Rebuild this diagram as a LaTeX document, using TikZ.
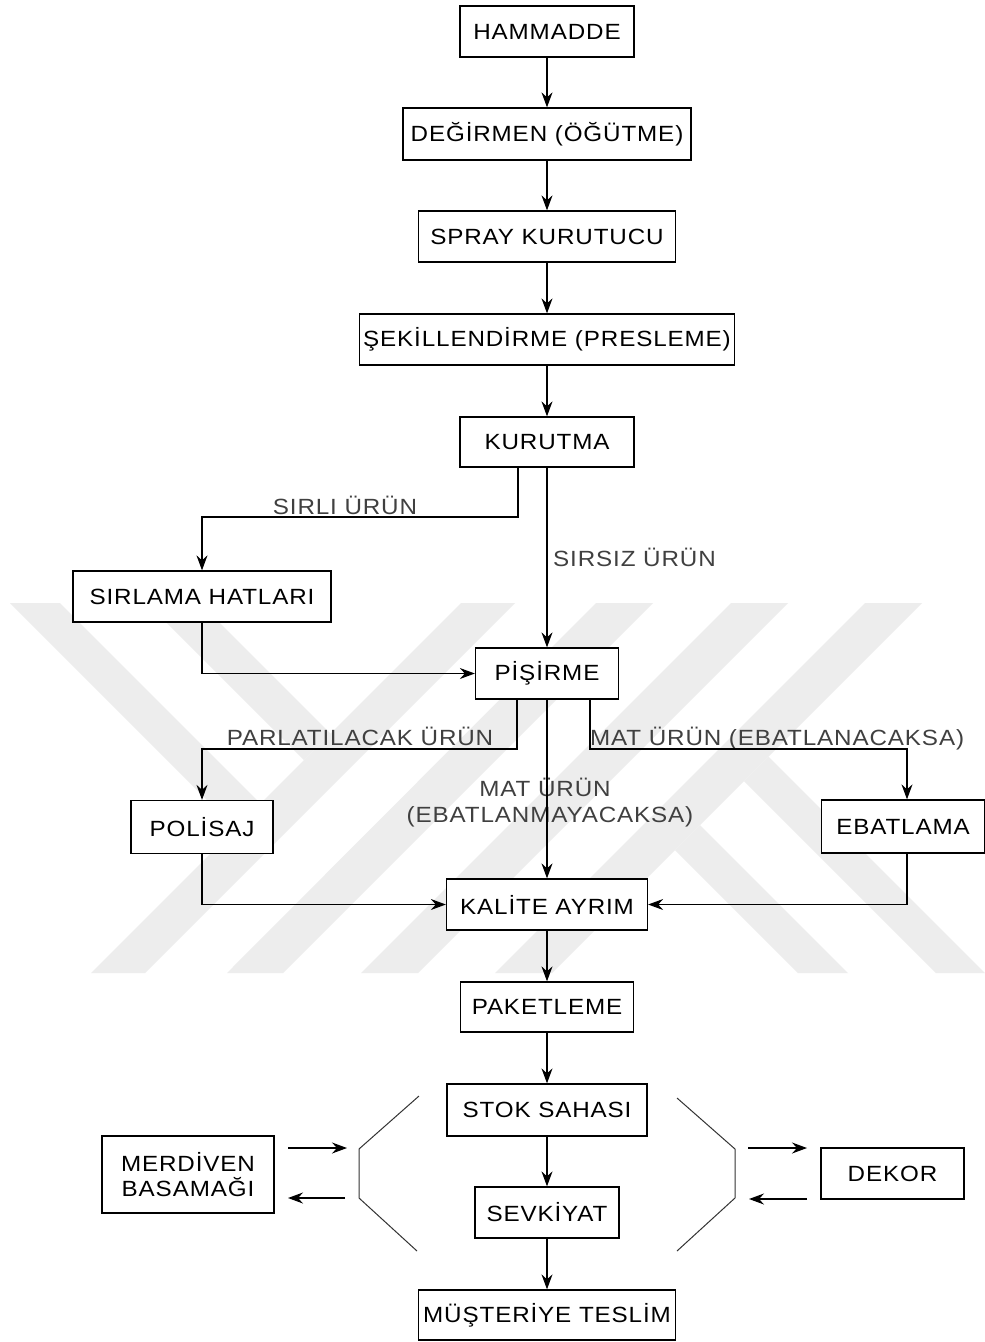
\documentclass[tikz,border=0pt]{standalone}
\usepackage{fontspec}
\setmainfont{Liberation Sans}[LetterSpace=4,FakeStretch=1.1]
\usetikzlibrary{arrows.meta}
\newcommand\dfont{\fontsize{22}{25}\selectfont}
\begin{document}
\begin{tikzpicture}[x=1pt,y=-1pt,
  box/.style={draw=black, line width=1.3pt, fill=white, inner sep=0pt, font=\dfont, text=black},
  lbl/.style={font=\dfont, text=black!75, inner sep=0pt, anchor=base},
  arr/.style={line width=1.2pt, black, -{Stealth[length=15pt,width=11pt,inset=5pt]}},
  ln/.style={line width=1pt, black!80},
  wm/.style={fill=gray!14, draw=none}]
\useasboundingbox (0,0) rectangle (985,1342);
\fill[white] (0,0) rectangle (985,1342);
% watermark
\fill[wm] (91,973) -- (145,973) -- (515,603) -- (461,603) -- cycle;
\fill[wm] (227,973) -- (283,973) -- (653,603) -- (596,603) -- cycle;
\fill[wm] (361,973) -- (418,973) -- (788,603) -- (731,603) -- cycle;
\fill[wm] (495,973) -- (552,973) -- (922,603) -- (865,603) -- cycle;
\fill[wm] (10,603) -- (60,603) -- (260.5,803.5) -- (235.5,828.5) -- cycle;
\fill[wm] (147,603) -- (200,603) -- (330.5,733.5) -- (304,760) -- cycle;
\fill[wm] (798,973) -- (848,973) -- (700,825) -- (675,850) -- cycle;
\fill[wm] (936,973) -- (985,973) -- (768.5,756.5) -- (744,781) -- cycle;
% boxes
\node[box, minimum width=174pt, minimum height=51pt] (ham) at (547,31.5) {HAMMADDE};
\node[box, minimum width=288pt, minimum height=52pt] (deg) at (547,134) {DEĞİRMEN (ÖĞÜTME)};
\node[box, minimum width=257pt, minimum height=51pt] (spr) at (547,236.5) {SPRAY KURUTUCU};
\node[box, minimum width=375pt, minimum height=51pt] (sek) at (547,339.5) {ŞEKİLLENDİRME (PRESLEME)};
\node[box, minimum width=174pt, minimum height=50pt] (kur) at (547,442) {KURUTMA};
\node[box, minimum width=258pt, minimum height=51pt] (sir) at (202,596.5) {SIRLAMA HATLARI};
\node[box, minimum width=143pt, minimum height=51pt] (pis) at (547,673.5) {PİŞİRME};
\node[box, minimum width=142pt, minimum height=53pt] (pol) at (202,827) {POLİSAJ};
\node[box, minimum width=163pt, minimum height=53pt] (eba) at (903,826.5) {EBATLAMA};
\node[box, minimum width=201pt, minimum height=51pt] (kal) at (547,904.5) {KALİTE AYRIM};
\node[box, minimum width=173pt, minimum height=50pt] (pak) at (547,1007) {PAKETLEME};
\node[box, minimum width=200pt, minimum height=52pt] (sto) at (547,1110) {STOK SAHASI};
\node[box, minimum width=144pt, minimum height=51pt] (sev) at (547,1212.5) {SEVKİYAT};
\node[box, minimum width=257pt, minimum height=50pt] (mus) at (547,1315) {MÜŞTERİYE TESLİM};
\node[box, minimum width=172pt, minimum height=77pt, align=center] (mer) at (188,1174.5) {MERDİVEN\\BASAMAĞI};
\node[box, minimum width=143pt, minimum height=51pt] (dek) at (892.5,1173.5) {DEKOR};
% labels
\node[lbl] (l1) at (345,514) {SIRLI ÜRÜN};
\node[lbl, anchor=base west] (l2) at (553,566.5) {SIRSIZ ÜRÜN};
\node[lbl] (l3) at (360,745.5) {PARLATILACAK ÜRÜN};
\node[lbl, anchor=base west] (l4) at (590,745.5) {MAT ÜRÜN (EBATLANACAKSA)};
\node[lbl] (l5a) at (545,796.5) {MAT ÜRÜN};
\node[lbl] (l5b) at (550,822) {(EBATLANMAYACAKSA)};
% connectors
\draw[arr] (ham) -- (deg);
\draw[arr] (deg) -- (spr);
\draw[arr] (spr) -- (sek);
\draw[arr] (sek) -- (kur);
\coordinate (k1) at (518,517);
\draw[arr] (kur.south -| k1) -- (k1) -| (sir.north);
\draw[arr] (kur) -- (pis);
\draw[arr] (sir.south) |- (pis.west);
\coordinate (p1) at (517,749);
\draw[arr] (pis.south -| p1) -- (p1) -| (pol.north);
\coordinate (p2) at (590,749);
\coordinate (e0) at (907,749);
\draw[arr] (pis.south -| p2) -- (p2) -- (e0) -- (eba.north -| e0);
\draw[arr] (pis) -- (kal);
\draw[arr] (pol.south) |- (kal.west);
\draw[arr] (eba.south -| e0) |- (kal.east);
\draw[arr] (kal) -- (pak);
\draw[arr] (pak) -- (sto);
\draw[arr] (sto) -- (sev);
\draw[arr] (sev) -- (mus);
% brackets
\coordinate (bl1) at (419,1096); \coordinate (bl2) at (359,1149);
\coordinate (bl3) at (359,1198); \coordinate (bl4) at (417,1251);
\draw[ln] (bl1) -- (bl2) -- (bl3) -- (bl4);
\coordinate (br1) at (677,1098); \coordinate (br2) at (735,1149);
\coordinate (br3) at (735,1198); \coordinate (br4) at (677,1251);
\draw[ln] (br1) -- (br2) -- (br3) -- (br4);
% side arrows
\coordinate (a1s) at (288,1148); \coordinate (a1e) at (347,1148);
\coordinate (a2s) at (345,1198); \coordinate (a2e) at (288,1198);
\coordinate (a3s) at (748,1148); \coordinate (a3e) at (807,1148);
\coordinate (a4s) at (807,1199); \coordinate (a4e) at (749,1199);
\draw[arr] (a1s) -- (a1e);
\draw[arr] (a2s) -- (a2e);
\draw[arr] (a3s) -- (a3e);
\draw[arr] (a4s) -- (a4e);
\end{tikzpicture}
\end{document}
